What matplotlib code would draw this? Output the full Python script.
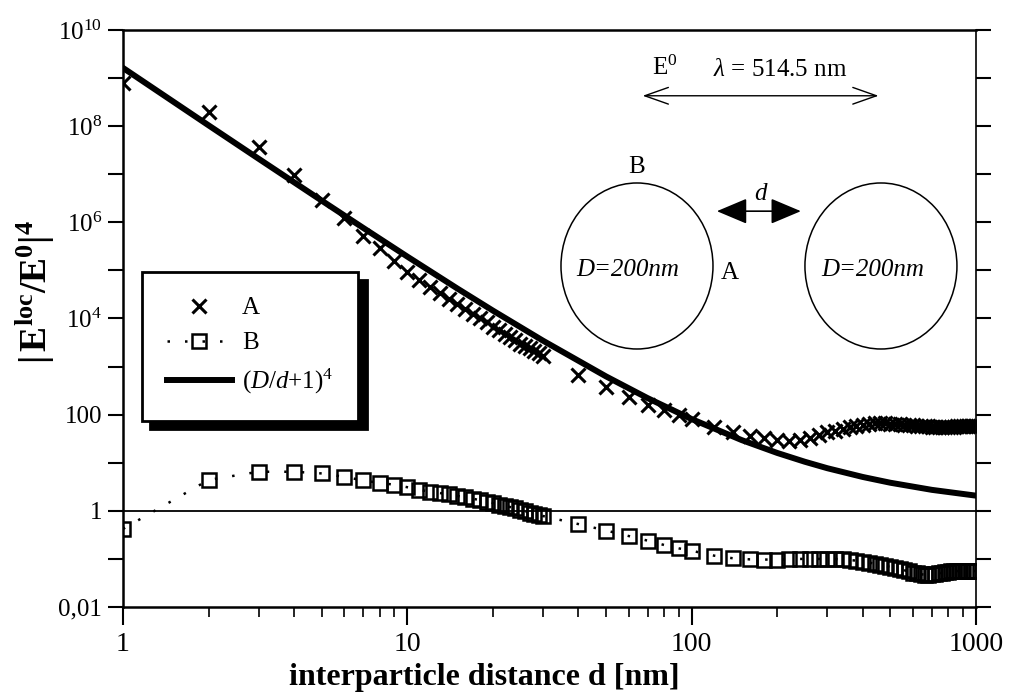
"""
|E_loc/E_0|^4 vs interparticle distance for two D=200nm spheres
"""
import matplotlib
matplotlib.use('Agg')
import matplotlib.pyplot as plt
from matplotlib.patches import Ellipse, FancyArrowPatch
from matplotlib.ticker import FixedLocator, FixedFormatter, LogLocator, NullFormatter, NullLocator

plt.rcParams['font.family'] = ['Liberation Serif', 'DejaVu Serif']
plt.rcParams['mathtext.fontset'] = 'custom'
plt.rcParams['mathtext.rm'] = 'Liberation Serif'
plt.rcParams['mathtext.it'] = 'Liberation Serif:italic'
plt.rcParams['mathtext.bf'] = 'Liberation Serif:bold'

# distances d [nm]
d_grid = list(range(1, 31)) + list(range(40, 101, 10)) + list(range(120, 1001, 20))

# point A (gap side)
enh_A = [7.8e8, 1.95e8, 3.6e7, 9.5e6, 2.9e6, 1.23e6, 5.2e5, 2.9e5, 1.6e5, 9.3e4,
         6.3e4, 4.6e4, 3.4e4, 2.6e4, 2.0e4, 1.55e4, 1.23e4, 1.0e4, 8.3e3, 6.8e3,
         5.8e3, 4.8e3, 4.1e3, 3.5e3, 3.0e3, 2.7e3, 2.4e3, 2.1e3, 1.9e3, 1.65e3,
         660, 370, 235, 160, 125, 98, 83,
         56, 44, 36, 33, 30, 28, 29.5, 33, 38, 43,
         46, 50, 55, 59, 62, 64, 66, 66, 66, 65,
         64, 63, 62, 61, 60, 59, 58, 57, 57, 56,
         56, 56, 56, 56, 56, 56, 56, 57, 57, 57, 57, 57, 57, 57, 57]

# point B (top of sphere)
enh_B = [0.42, 4.4, 6.5, 6.5, 6.0, 5.1, 4.3, 3.8, 3.5, 3.1,
         2.75, 2.5, 2.35, 2.2, 2.05, 1.9, 1.8, 1.65, 1.55, 1.45,
         1.35, 1.28, 1.2, 1.12, 1.05, 0.98, 0.92, 0.87, 0.82, 0.78,
         0.53, 0.39, 0.30, 0.24, 0.195, 0.166, 0.148,
         0.117, 0.103, 0.098, 0.097, 0.097, 0.098, 0.1, 0.1, 0.1, 0.1,
         0.1, 0.098, 0.095, 0.092, 0.088, 0.084, 0.080, 0.076, 0.072, 0.068,
         0.064, 0.061, 0.058, 0.055, 0.052, 0.050, 0.048, 0.047, 0.047, 0.048,
         0.049, 0.050, 0.052, 0.053, 0.054, 0.055, 0.055, 0.056, 0.056, 0.056,
         0.056, 0.056, 0.056, 0.056, 0.056]

# (D/d+1)^4 curve
d_curve = [1, 2, 3, 5, 7, 10, 15, 20, 30, 50, 70, 100, 150, 200, 250, 300, 400, 500, 700, 1000]
enh_curve = [1.63e9, 1.04e8, 2.1e7, 2.83e6, 7.65e5, 1.94e5, 4.2e4, 1.46e4, 3.46e3, 625,
             221, 81, 29.6, 16, 10.5, 7.7, 5.06, 3.84, 2.73, 2.07]

x_ticks = [1, 10, 100, 1000]
x_labels = ['1', '10', '100', '1000']
y_ticks = [10.0 ** k for k in range(-2, 11)]
y_labels = ['0,01', '', '1', '', '100', '', r'$10^{4}$', '', r'$10^{6}$', '',
            r'$10^{8}$', '', r'$10^{10}$']

fig = plt.figure(figsize=(10.12, 6.99), dpi=100)
ax = fig.add_axes([0.1215, 0.1316, 0.8429, 0.8255])

h_a, = ax.plot(d_grid, enh_A, ls='none', marker='x', ms=10, mew=2.2, color='k', label='A')
h_b, = ax.plot(d_grid, enh_B, ls=(0, (1, 6)), lw=1.8, marker='s', ms=9.5, mew=1.8,
               mfc='none', color='k', label='B')
h_c, = ax.plot(d_curve, enh_curve, color='k', lw=4.3, label=r'$\mathit{(D/d{+}1)^{4}}$')
ax.axhline(1, color='k', lw=1.3)

ax.set_xscale('log')
ax.set_yscale('log')
ax.set_xlim(1, 1000)
ax.set_ylim(0.01, 1e10)

ax.xaxis.set_major_locator(FixedLocator(x_ticks))
ax.xaxis.set_major_formatter(FixedFormatter(x_labels))
ax.xaxis.set_minor_locator(LogLocator(base=10, subs=range(2, 10)))
ax.xaxis.set_minor_formatter(NullFormatter())
ax.yaxis.set_major_locator(FixedLocator(y_ticks))
ax.yaxis.set_major_formatter(FixedFormatter(y_labels))
ax.yaxis.set_minor_locator(NullLocator())

ax.tick_params(axis='x', which='major', direction='out', length=13, width=1.5,
               labelsize=20, pad=5)
ax.tick_params(axis='x', which='minor', direction='out', length=7, width=1.2)
ax.tick_params(axis='y', which='major', direction='out', length=11, width=1.5,
               labelsize=18, left=True, right=True, pad=4)
for side in ['left', 'bottom', 'top']:
    ax.spines[side].set_linewidth(1.8)
ax.spines['right'].set_linewidth(1.2)

ax.set_xlabel('interparticle distance d [nm]', fontsize=23, fontweight='bold')
ax.xaxis.set_label_coords(0.424, -0.097)
ax.set_ylabel(r'$\mathbf{|\,E^{loc}/E^{0}|^{4}}$', fontsize=27)
ax.yaxis.set_label_coords(-0.077, 0.546)

leg = ax.legend(handles=[h_a, h_b, h_c], loc='upper left', bbox_to_anchor=(0.022, 0.5806),
                borderaxespad=0, fontsize=18, frameon=True, fancybox=False, edgecolor='k',
                framealpha=1,
                shadow={'ox': 6, 'oy': -6, 'facecolor': 'k', 'edgecolor': 'k', 'alpha': 1},
                handlelength=2.6, borderpad=1.0, labelspacing=0.5, handletextpad=0.4)
leg.get_frame().set_linewidth(2)

# sketch of the two spheres
T = ax.transAxes
for cx in [0.6026, 0.8886]:
    ax.add_patch(Ellipse((cx, 0.591), 0.1782, 0.2877, transform=T, fill=False,
                         ec='k', lw=1.1))
ax.text(0.592, 0.584, 'D=200nm', transform=T, fontsize=18, style='italic',
        ha='center', va='center')
ax.text(0.879, 0.584, 'D=200nm', transform=T, fontsize=18, style='italic',
        ha='center', va='center')
ax.text(0.6026, 0.762, 'B', transform=T, fontsize=18, ha='center', va='center')
ax.text(0.7116, 0.578, 'A', transform=T, fontsize=18, ha='center', va='center')
ax.text(0.7468, 0.716, 'd', transform=T, fontsize=18, style='italic', ha='center', va='center')
ax.add_patch(FancyArrowPatch((0.693, 0.686), (0.798, 0.686), transform=T,
                             arrowstyle='<|-|>,head_length=19,head_width=8',
                             mutation_scale=1, color='k', lw=1.2))
ax.text(0.6354, 0.935, r'E$^{0}$', transform=T, fontsize=18, ha='center', va='center')
ax.text(0.770, 0.930, r'$\lambda$ = 514.5 nm', transform=T, fontsize=18,
        ha='center', va='center')
ax.add_patch(FancyArrowPatch((0.606, 0.886), (0.889, 0.886), transform=T,
                             arrowstyle='<->,head_length=17,head_width=6',
                             mutation_scale=1, color='k', lw=1.0))

fig.savefig('out.png', dpi=100)
